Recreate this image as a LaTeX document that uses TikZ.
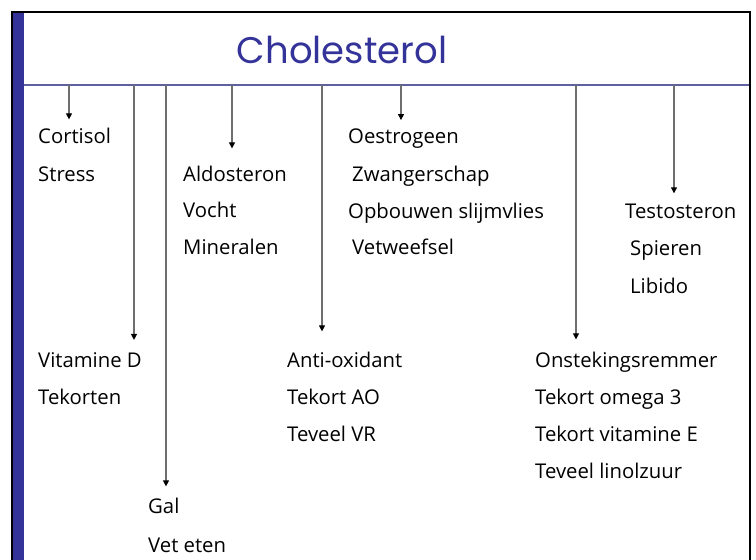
\documentclass[tikz,border=0pt]{standalone}
\usepackage{fontspec}
\setmainfont{Open Sans}
\newfontfamily\titlefont{Poppins}
\usetikzlibrary{arrows.meta}
\definecolor{slideblue}{RGB}{51,51,153}
\definecolor{headrule}{RGB}{96,96,160}
\definecolor{linegray}{RGB}{110,110,110}
\tikzset{
  item/.style={anchor=base west,inner sep=0pt,font=\fontsize{20.3}{20.3}\selectfont},
  down/.style={draw=linegray,line width=1.2pt,-{Triangle[length=6pt,width=6pt,color=black]}}
}
\begin{document}
\begin{tikzpicture}[x=1pt,y=-1pt]
    \useasboundingbox (0,0) rectangle (756,560);
    % slide frame
    \fill[slideblue] (13,12) rectangle (24,560);
    \draw[line width=2.5pt] (12,560) -- (12,12) -- (750,12) -- (750,560);
    \draw[headrule,line width=1.5pt] (24,85) -- (749,85);
    \node[anchor=base,inner sep=0pt,text=slideblue,font=\titlefont\fontsize{37}{37}\selectfont] (title) at (342,63) {Cholesterol};

    % start points on the header rule
    \coordinate (h1) at (69,85);
    \coordinate (h2) at (134,85);
    \coordinate (h3) at (166,85);
    \coordinate (h4) at (232,85);
    \coordinate (h5) at (322,85);
    \coordinate (h6) at (401,85);
    \coordinate (h7) at (576,85);
    \coordinate (h8) at (674,85);

    % cortisol
    \node[item] (cortisol) at (38,143) {Cortisol};
    \node[item] (stress) at (38,181) {Stress};
    % vitamine D
    \node[item] (vitd) at (38,367) {Vitamine D};
    \node[item] (tekorten) at (38,404) {Tekorten};
    % gal
    \node[item] (gal) at (148,513) {Gal};
    \node[item] (veteten) at (148,552) {Vet eten};
    % aldosteron
    \node[item] (aldo) at (183,181) {Aldosteron};
    \node[item] (vocht) at (183,217) {Vocht};
    \node[item] (mineralen) at (183,254) {Mineralen};
    % anti-oxidant
    \node[item] (antiox) at (287,367) {Anti-oxidant};
    \node[item] (tekortao) at (287,404) {Tekort AO};
    \node[item] (teveelvr) at (287,441) {Teveel VR};
    % oestrogeen
    \node[item] (oestro) at (348,143) {Oestrogeen};
    \node[item] (zwanger) at (352,181) {Zwangerschap};
    \node[item] (opbouw) at (348,218) {Opbouwen slijmvlies};
    \node[item] (vetweef) at (352,254) {Vetweefsel};
    % ontstekingsremmer
    \node[item] (remmer) at (535,367) {Onstekingsremmer};
    \node[item] (omega) at (535,404) {Tekort omega 3};
    \node[item] (vite) at (535,441) {Tekort vitamine E};
    \node[item] (linol) at (535,478) {Teveel linolzuur};
    % testosteron
    \node[item] (testo) at (625,218) {Testosteron};
    \node[item] (spieren) at (630,255) {Spieren};
    \node[item] (libido) at (630,293) {Libido};

    % arrows
    \draw[down,shorten >=8pt] (h1) -- (h1 |- cortisol.north);
    \draw[down,shorten >=12pt] (h2) -- (h2 |- vitd.north);
    \draw[down,shorten >=11pt] (h3) -- (h3 |- gal.north);
    \draw[down,shorten >=17pt] (h4) -- (h4 |- aldo.north);
    \draw[down,shorten >=20pt] (h5) -- (h5 |- antiox.north);
    \draw[down,shorten >=8pt] (h6) -- (h6 |- oestro.north);
    \draw[down,shorten >=12pt] (h7) -- (h7 |- remmer.north);
    \draw[down,shorten >=10pt] (h8) -- (h8 |- testo.north);
\end{tikzpicture}
\end{document}
